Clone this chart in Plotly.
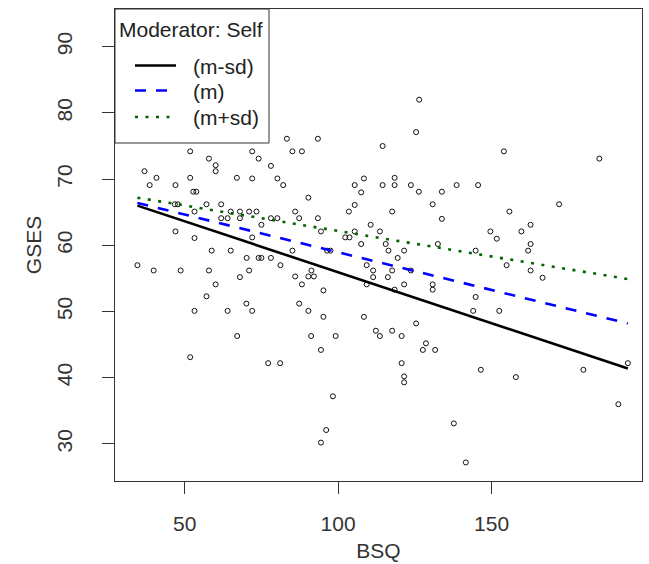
import plotly.graph_objects as go

# Scatter data (BSQ, GSES)
bsq = [51.8, 57.9, 60.1, 60.1, 36.9, 40.8, 51.8, 67.0, 38.6, 47.0, 52.8, 53.8, 46.8, 47.8, 57.1, 61.9,
       53.2, 65.0, 68.0, 61.9, 64.0, 68.0, 47.0, 53.2, 58.8, 65.0, 70.2, 34.6, 39.9, 48.7, 57.9, 68.0,
       60.1, 57.1, 53.2, 64.0, 70.1, 67.1, 51.8,
       83.3, 93.4, 72.0, 85.1, 88.2, 74.1, 78.1, 72.0, 80.2, 82.1, 108.4, 105.4, 107.5, 90.3, 105.4,
       103.5, 71.0, 73.4, 86.0, 78.1, 80.2, 87.3, 93.4, 75.0, 94.4, 105.4, 102.3, 103.7, 72.0, 107.5,
       85.1, 96.4, 97.5, 74.1, 75.0, 78.1, 81.2, 109.3, 71.0, 91.3, 86.0, 90.3, 92.1,
       88.2, 95.2, 109.3, 72.0, 87.3, 90.3, 95.2, 108.4, 91.2, 99.2, 94.4, 77.2, 81.1, 98.3, 96.1, 94.4,
       126.4, 125.4, 114.5, 118.4, 114.5, 118.4, 123.7, 126.3, 133.8, 138.6, 145.6, 130.8, 117.6, 133.8,
       110.6, 113.6, 115.5, 116.4, 121.5, 132.5, 144.8, 149.6, 151.7, 119.4,
       111.4, 117.6, 123.7, 111.4, 116.2, 121.5, 118.4, 130.8, 130.8, 144.8, 144.0, 152.5, 112.3, 113.6,
       117.6, 120.7, 125.4, 128.6, 127.6, 131.6, 120.7, 121.5, 121.5, 146.5, 137.7, 141.6,
       154.0, 185.1, 172.0, 155.8, 162.7, 159.7, 162.7, 161.9, 154.9, 162.7, 166.6,
       157.9, 179.9, 194.4, 191.3]
gses = [74.2, 73.1, 72.1, 71.2, 71.2, 70.2, 70.2, 70.2, 69.1, 69.1, 68.1, 68.1, 66.2, 66.2, 66.2, 66.2,
        65.1, 65.1, 65.1, 64.1, 64.1, 64.1, 62.1, 61.1, 59.2, 59.2, 58.1, 57.0, 56.2, 56.2, 56.2, 55.2,
        54.1, 52.3, 50.1, 50.1, 51.2, 46.3, 43.1,
        76.1, 76.1, 74.2, 74.2, 74.2, 73.1, 72.0, 70.1, 70.1, 69.1, 70.1, 69.1, 68.0, 67.2, 66.1,
        65.1, 65.1, 65.1, 65.1, 64.1, 64.1, 64.1, 64.1, 63.1, 62.1, 62.1, 61.2, 61.2, 61.2, 60.2,
        59.2, 59.2, 59.2, 58.1, 58.1, 58.1, 57.0, 57.0, 56.2, 56.2, 55.3, 55.3, 55.3,
        54.1, 53.2, 54.1, 50.1, 51.2, 50.1, 49.2, 49.2, 46.3, 46.3, 44.2, 42.2, 42.2, 37.2, 32.1, 30.2,
        82.0, 77.1, 75.0, 70.2, 69.1, 69.1, 69.1, 68.1, 68.1, 69.1, 69.1, 66.2, 65.1, 64.0,
        63.1, 62.1, 60.2, 59.2, 59.2, 60.2, 59.2, 62.1, 61.0, 58.1,
        56.2, 56.2, 56.2, 55.2, 55.2, 54.1, 53.3, 54.1, 53.3, 52.2, 50.1, 50.1, 47.1, 46.3,
        47.1, 46.3, 48.2, 45.2, 44.2, 44.2, 42.2, 40.2, 39.3, 41.2, 33.1, 27.2,
        74.2, 73.1, 66.2, 65.1, 63.1, 62.1, 60.2, 59.2, 57.0, 56.2, 55.1,
        40.1, 41.2, 42.2, 36.0]

# Simple slopes lines (endpoints at min / max BSQ)
line_x = [34.6, 194.4]
line_msd = [66.0, 41.4]
line_m = [66.4, 48.2]
line_psd = [67.2, 54.9]
series_names = ["(m-sd)", "(m)", "(m+sd)"]
legend_title = "Moderator: Self"

x_ticks = [50, 100, 150]
y_ticks = [30, 40, 50, 60, 70, 80, 90]

FONT = "Liberation Sans, Arial, sans-serif"
styles = [dict(color="black", width=2.6),
          dict(color="#0000FF", width=2.6, dash="11px,10px"),
          dict(color="#006400", width=2.6, dash="3px,7.5px")]

fig = go.Figure()
fig.add_trace(go.Scatter(x=bsq, y=gses, mode="markers", showlegend=False,
                         marker=dict(symbol="circle-open", size=5, color="#111",
                                     line=dict(width=1, color="#111"))))
for name, ys, st in zip(series_names, [line_msd, line_m, line_psd], styles):
    fig.add_trace(go.Scatter(x=line_x, y=ys, mode="lines", name=name, showlegend=False, line=st))

axis_common = dict(showline=True, linecolor="#333", linewidth=1, mirror=True,
                   ticks="outside", ticklen=12, tickcolor="#333", tickwidth=1,
                   showgrid=False, zeroline=False, automargin=False,
                   tickfont=dict(family=FONT, size=21, color="#333"))
fig.update_xaxes(range=[27.3, 199], tickvals=x_ticks, ticklabelstandoff=12,
                 title=dict(text="BSQ", font=dict(family=FONT, size=21, color="#333"), standoff=9),
                 **axis_common)
fig.update_yaxes(range=[24.4, 95.7], tickvals=y_ticks, tickangle=-90, ticklabelstandoff=22,
                 title=dict(text="GSES", font=dict(family=FONT, size=21, color="#333"), standoff=5),
                 **axis_common)

# Legend box (R-style, inside the top-left corner of the plot)
L, T, PW, PH = 115, 9, 527, 472
def px(xp):
    return (xp - L) / PW
def py(yp):
    return 1 - (yp - T) / PH

shapes = [dict(type="rect", xref="paper", yref="paper", x0=0, x1=px(269), y0=py(143), y1=1,
               fillcolor="white", line=dict(color="#333", width=1), layer="above")]
annotations = [dict(text=legend_title, xref="paper", yref="paper", x=px(117), y=py(29),
                    xanchor="left", yanchor="middle", showarrow=False,
                    font=dict(family=FONT, size=21, color="#222"))]
row_y = [66.5, 91.5, 118]
for name, st, ry in zip(series_names, styles, row_y):
    shapes.append(dict(type="line", xref="paper", yref="paper", x0=px(135), x1=px(176),
                       y0=py(ry - 1), y1=py(ry - 1), line=st, layer="above"))
    annotations.append(dict(text=name, xref="paper", yref="paper", x=px(191), y=py(ry),
                            xanchor="left", yanchor="middle", showarrow=False,
                            font=dict(family=FONT, size=21, color="#222")))

fig.update_layout(
    width=649, height=564,
    margin=dict(l=L, r=7, t=T, b=83),
    plot_bgcolor="white", paper_bgcolor="white",
    font=dict(family=FONT, size=21, color="#222"),
    showlegend=False,
    shapes=shapes, annotations=annotations,
)

fig.write_html("out.html", config={"displayModeBar": False},
               post_script="document.body.style.margin='0';document.body.style.overflow='hidden';")
